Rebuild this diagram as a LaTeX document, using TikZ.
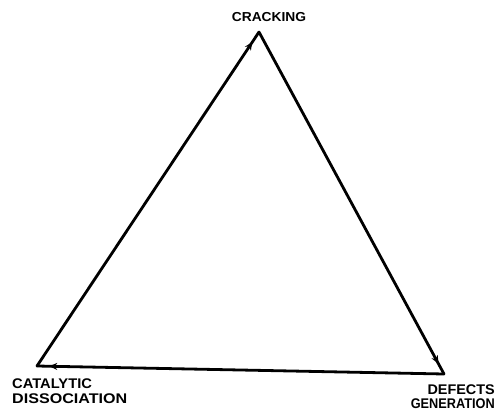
\documentclass[tikz,border=0pt]{standalone}
\usepackage{fontspec}
\setmainfont{Liberation Sans}
\usetikzlibrary{decorations.markings,arrows.meta}
\tikzset{
  edge/.style={line width=2.8pt, line cap=round, line join=round,
    postaction={decorate},
    decoration={markings, mark=at position 0.97 with {\arrow{Stealth[length=8pt,width=7pt]}}}},
  lbl/.style={inner sep=0pt, font=\bfseries\fontsize{14}{14}\selectfont}
}
\begin{document}
\begin{tikzpicture}[x=1pt,y=-1pt]
\useasboundingbox (0,0) rectangle (497,417);
\coordinate (T) at (259,32);
\coordinate (L) at (37,366);
\coordinate (R) at (444,374);
\draw[edge] (L) -- (T);
\draw[edge] (T) -- (R);
\draw[edge] (R) -- (L);
\node[lbl, anchor=base, font=\bfseries\fontsize{13}{13}\selectfont] (crack) at (269,22) {\scalebox{1.06}[1]{CRACKING}};
\node[lbl, anchor=base west] (cat) at (12,388) {\scalebox{1.05}[1]{CATALYTIC}};
\node[lbl, anchor=base west] (dis) at (12,403) {\scalebox{1.15}[1]{DISSOCIATION}};
\node[lbl, anchor=base east] (def) at (495,394) {\scalebox{1.03}[1]{DEFECTS}};
\node[lbl, anchor=base east] (gen) at (495,408) {\scalebox{0.91}[1]{GENERATION}};
\end{tikzpicture}
\end{document}
